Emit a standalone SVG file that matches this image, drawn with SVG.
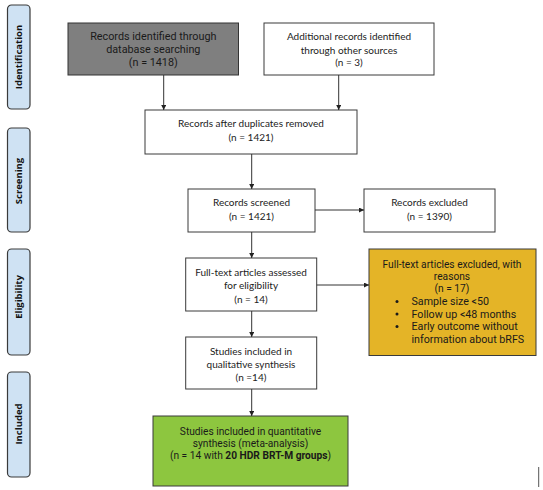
<svg xmlns="http://www.w3.org/2000/svg" width="543" height="490" viewBox="0 0 543 490">
<style>
.side{fill:#cfe2f3;stroke:#3a3a3a;stroke-width:1.2}
.sidet{font-family:"Open Sans",sans-serif;font-size:9.5px;font-weight:bold;fill:#111;text-anchor:middle}
.box{fill:#fff;stroke:#3a3a3a;stroke-width:1}
.t{font-family:Lato,"Liberation Sans",sans-serif;font-size:10px;fill:#222;text-anchor:middle}
.u{font-family:Roboto,"Liberation Sans",sans-serif;font-size:10.2px;fill:#1a1a1a;text-anchor:middle}
.b{font-family:Roboto,"Liberation Sans",sans-serif;font-size:10.7px;fill:#1a1a1a}
.conn line{stroke:#333;stroke-width:1;marker-end:url(#ah)}
</style>
<defs>
<marker id="ah" viewBox="0 0 8 8" refX="8" refY="4" markerWidth="5" markerHeight="5" orient="auto" markerUnits="userSpaceOnUse">
<path d="M0,0 L8,4 L0,8 z" fill="#222"/>
</marker>
</defs>
<rect width="543" height="490" fill="#fff"/>
<g id="phase-identification"><rect class="side" x="7.5" y="5" width="22.5" height="104" rx="4"/><text class="sidet" transform="translate(22,57) rotate(-90)">Identification</text></g>
<g id="phase-screening"><rect class="side" x="7.5" y="128" width="22.5" height="104" rx="4"/><text class="sidet" transform="translate(22,181) rotate(-90)">Screening</text></g>
<g id="phase-eligibility"><rect class="side" x="7.5" y="249" width="22.5" height="106" rx="4"/><text class="sidet" transform="translate(22,297) rotate(-90)">Eligibility</text></g>
<g id="phase-included"><rect class="side" x="7.5" y="372" width="22.5" height="105" rx="4"/><text class="sidet" transform="translate(22,424) rotate(-90)">Included</text></g>

<g id="db"><rect x="68" y="23" width="170.5" height="52" fill="#7f7f7f" stroke="#333" stroke-width="1"/>
<text class="u" x="153.3" y="40" style="font-size:10.8px">Records identified through</text>
<text class="u" x="153.3" y="53" style="font-size:10.8px">database searching</text>
<text class="u" x="153.3" y="66" style="font-size:10.8px">(n = 1418)</text></g>

<g id="other"><rect class="box" x="264" y="23" width="170" height="52"/>
<text class="t" x="349" y="40">Additional records identified</text>
<text class="t" x="349" y="53.5">through other sources</text>
<text class="t" x="349" y="66">(n = 3)</text></g>

<g id="dup"><rect class="box" x="145" y="110" width="212" height="44"/>
<text class="t" x="251" y="127">Records after duplicates removed</text>
<text class="t" x="251" y="141">(n = 1421)</text></g>

<g id="screened"><rect class="box" x="188" y="189" width="127" height="43"/>
<text class="t" x="251.5" y="206">Records screened</text>
<text class="t" x="251.5" y="220">(n = 1421)</text></g>

<g id="excluded"><rect class="box" x="364" y="189" width="131" height="43"/>
<text class="t" x="429.5" y="206">Records excluded</text>
<text class="t" x="429.5" y="220">(n = 1390)</text></g>

<g id="fulltext"><rect class="box" x="185.7" y="258" width="131" height="53"/>
<text class="t" x="251" y="276">Full-text articles assessed</text>
<text class="t" x="251" y="289">for eligibility</text>
<text class="t" x="251" y="302.5">(n = 14)</text></g>

<g id="ftexcluded"><rect x="369" y="249" width="167" height="106.5" fill="#e4b427" stroke="#3a3a3a" stroke-width="1"/>
<text class="u" x="452" y="267.5">Full-text articles excluded, with</text>
<text class="u" x="452" y="279.5">reasons</text>
<text class="u" x="452" y="291.5">(n = 17)</text>
<circle cx="397" cy="301.5" r="1.5" fill="#1a1a1a"/><text class="b" x="411.5" y="305">Sample size &lt;50</text>
<circle cx="397" cy="314" r="1.5" fill="#1a1a1a"/><text class="b" x="411.5" y="317.5">Follow up &lt;48 months</text>
<circle cx="397" cy="326.5" r="1.5" fill="#1a1a1a"/><text class="b" x="411.5" y="330">Early outcome without</text>
<text class="b" x="411.5" y="342.5">information about bRFS</text>
</g>

<g id="qual"><rect class="box" x="185.7" y="337" width="131" height="52"/>
<text class="t" x="251" y="354.5">Studies included in</text>
<text class="t" x="251" y="367.5">qualitative synthesis</text>
<text class="t" x="251" y="381">(n =14)</text></g>

<g id="quant"><rect x="153" y="416" width="195" height="70" fill="#8dc63f" stroke="#3a3a3a" stroke-width="1"/>
<text class="u" x="250.5" y="434.5">Studies included in quantitative</text>
<text class="u" x="250.5" y="446.5">synthesis (meta-analysis)</text>
<text class="u" x="250.5" y="458.5">(n = 14 with <tspan font-weight="bold">20 HDR BRT-M groups</tspan>)</text></g>

<g id="connectors" class="conn">
<line x1="163.7" y1="75" x2="163.7" y2="110"/>
<line x1="338.7" y1="75" x2="338.7" y2="110"/>
<line x1="251.7" y1="154" x2="251.7" y2="189"/>
<line x1="315" y1="210" x2="364" y2="210"/>
<line x1="251.7" y1="232" x2="251.7" y2="258"/>
<line x1="316.7" y1="285" x2="369" y2="285"/>
<line x1="251.7" y1="311" x2="251.7" y2="337"/>
<line x1="251.7" y1="389" x2="251.7" y2="416"/>
</g>
<line x1="538.7" y1="467" x2="538.7" y2="487" stroke="#555" stroke-width="1"/>
</svg>
